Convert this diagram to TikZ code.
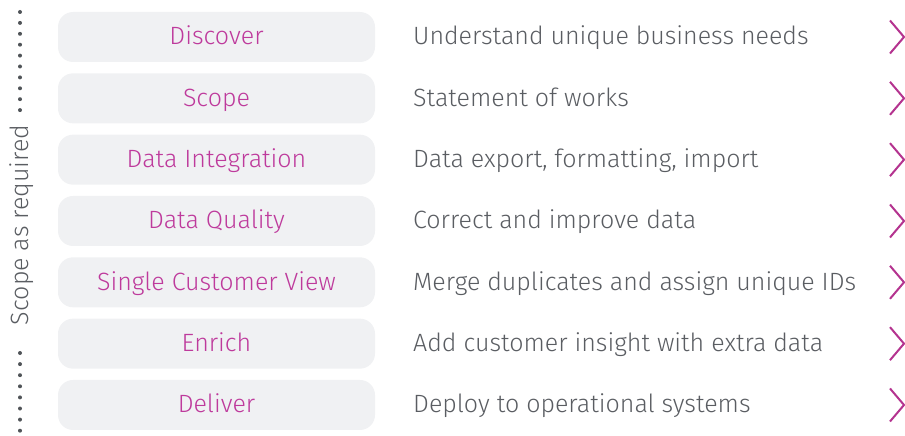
\documentclass[tikz,border=0pt]{standalone}
\usepackage{fontspec}
\setmainfont{Fira Sans}[UprightFont={* Light}]
\definecolor{boxfill}{HTML}{F0F1F3}
\definecolor{stage}{HTML}{BE3A9C}
\definecolor{desc}{HTML}{5A5D62}
\definecolor{dotgray}{HTML}{505458}
\definecolor{chev}{HTML}{B4338F}
\begin{document}
\begin{tikzpicture}[x=1pt,y=-1pt,
  stagebox/.style={fill=boxfill,rounded corners=15pt,minimum width=317pt,minimum height=50pt,
    text=stage,font=\fontsize{25}{28}\selectfont,inner sep=0pt},
  desctext/.style={anchor=west,text=desc,font=\fontsize{25}{28}\selectfont,inner sep=0pt},
  chevline/.style={draw=chev,line width=2pt},
  dotmark/.style={fill=dotgray,circle,inner sep=0pt,minimum size=4pt}]
\useasboundingbox (0,0) rectangle (905,436);
\foreach \i/\name/\txt [count=\k from 0] in {
  d1/Discover/Understand unique business needs,
  d2/Scope/Statement of works,
  d3/Data Integration/{Data export, formatting, import},
  d4/Data Quality/Correct and improve data,
  d5/Single Customer View/Merge duplicates and assign unique IDs,
  d6/Enrich/Add customer insight with extra data,
  d7/Deliver/Deploy to operational systems}{
  \pgfmathsetmacro{\cy}{37+61.33*\k}
  \node[stagebox] (\i) at (216.5,\cy) {};
  \node[text=stage,font=\fontsize{25}{28}\selectfont,inner sep=0pt,anchor=base] (\i l) at (216.5,\cy+8) {\name};
  \node[desctext,anchor=base west] (\i t) at (413,\cy+8) {\txt};
  \coordinate (\i a) at (890,\cy-16.5);
  \coordinate (\i b) at (904,\cy);
  \coordinate (\i c) at (890,\cy+16.5);
  \draw[chevline] (\i a) -- (\i b) -- (\i c);
}
% dotted bracket with rotated label
\foreach \j in {0,...,9}{\node[dotmark] (top\j) at (20,12+10.9*\j) {};}
\foreach \j in {0,...,7}{\node[dotmark] (bot\j) at (20,353+11.1*\j) {};}
\node[rotate=90,text=desc,font=\fontsize{25}{28}\selectfont,inner sep=0pt,anchor=base] (lbl) at (28,225) {Scope as required};
\end{tikzpicture}
\end{document}
